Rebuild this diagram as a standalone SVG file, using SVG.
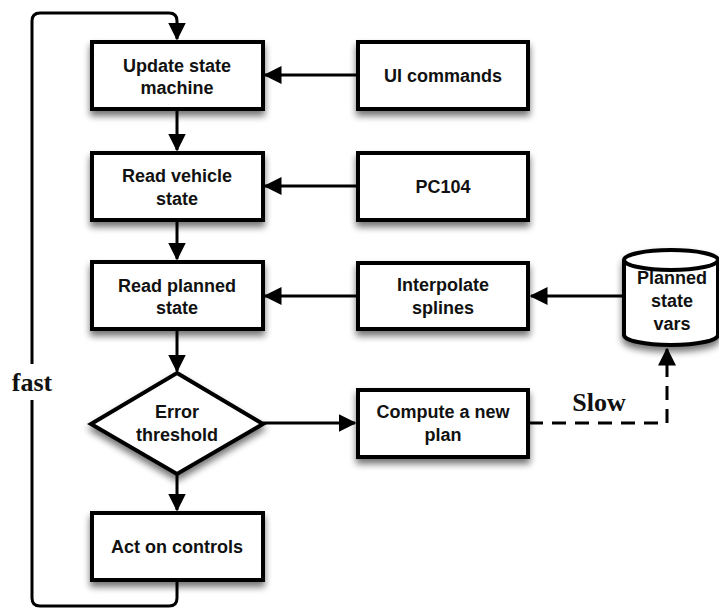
<svg xmlns="http://www.w3.org/2000/svg" width="719" height="610" viewBox="0 0 719 610">
<defs>
<filter id="sh" x="-20%" y="-20%" width="150%" height="160%">
<feGaussianBlur in="SourceAlpha" stdDeviation="3.5"/>
<feOffset dx="0" dy="5" result="b"/>
<feComponentTransfer><feFuncA type="linear" slope="0.55"/></feComponentTransfer>
<feMerge><feMergeNode/><feMergeNode in="SourceGraphic"/></feMerge>
</filter>
<marker id="ah" markerWidth="6" markerHeight="6" refX="5.5" refY="3" orient="auto" markerUnits="strokeWidth" viewBox="0 0 6 6">
<path d="M0,0 L6,3 L0,6 Z" fill="#000"/>
</marker>
</defs>
<style>
.box{fill:#fff;stroke:#000;stroke-width:4;filter:url(#sh)}
.t{font-family:"Liberation Sans",Arial,sans-serif;font-weight:bold;font-size:18px;text-anchor:middle;fill:#111}
.c{fill:none;stroke:#000;stroke-width:3}
.lbl{font-family:"Liberation Serif","DejaVu Serif",serif;font-weight:bold;font-size:26px;text-anchor:middle;fill:#111}
</style>
<g id="connectors">
<path class="c" d="M177,581 V598 Q177,606 169,606 H40 Q32,606 32,598 V400"/>
<path class="c" d="M32,364 V21 Q32,13 40,13 H169 Q177,13 177,21 V39" marker-end="url(#ah)"/>
<line class="c" x1="177" y1="110" x2="177" y2="150" marker-end="url(#ah)"/>
<line class="c" x1="177" y1="221" x2="177" y2="259" marker-end="url(#ah)"/>
<line class="c" x1="177" y1="331" x2="177" y2="371" marker-end="url(#ah)"/>
<line class="c" x1="177" y1="475" x2="177" y2="510" marker-end="url(#ah)"/>
<line class="c" x1="357" y1="75" x2="265" y2="75" marker-end="url(#ah)"/>
<line class="c" x1="357" y1="186" x2="265" y2="186" marker-end="url(#ah)"/>
<line class="c" x1="357" y1="296" x2="265" y2="296" marker-end="url(#ah)"/>
<line class="c" x1="623" y1="296" x2="531" y2="296" marker-end="url(#ah)"/>
<line class="c" x1="263" y1="423" x2="355" y2="423" marker-end="url(#ah)"/>
<path class="c" d="M529,423 H667 V349" stroke-dasharray="14,9" marker-end="url(#ah)"/>
<text class="lbl" x="32" y="391">fast</text>
<text class="lbl" x="599" y="411">Slow</text>
</g>
<g id="update"><rect class="box" x="92" y="42" width="171" height="67"/><text class="t" x="177" y="72">Update state</text><text class="t" x="177" y="94">machine</text></g>
<g id="readvehicle"><rect class="box" x="92" y="153" width="171" height="67"/><text class="t" x="177" y="182">Read vehicle</text><text class="t" x="177" y="205">state</text></g>
<g id="readplanned"><rect class="box" x="92" y="262" width="171" height="67"/><text class="t" x="177" y="292">Read planned</text><text class="t" x="177" y="314">state</text></g>
<g id="error"><path class="box" d="M177,373 L263,424 L177,474 L91,424 Z"/><text class="t" x="177" y="418">Error</text><text class="t" x="177" y="441">threshold</text></g>
<g id="act"><rect class="box" x="92" y="513" width="171" height="67"/><text class="t" x="177" y="553">Act on controls</text></g>
<g id="ui"><rect class="box" x="358" y="42" width="170" height="67"/><text class="t" x="443" y="82">UI commands</text></g>
<g id="pc104"><rect class="box" x="358" y="153" width="170" height="67"/><text class="t" x="443" y="193">PC104</text></g>
<g id="interp"><rect class="box" x="358" y="263" width="170" height="66"/><text class="t" x="443" y="291">Interpolate</text><text class="t" x="443" y="314">splines</text></g>
<g id="compute"><rect class="box" x="358" y="390" width="170" height="67"/><text class="t" x="443" y="418">Compute a new</text><text class="t" x="443" y="441">plan</text></g>
<g id="planned">
<path class="box" d="M624,260 V335 A47,10 0 0 0 718,335 V260 A47,10 0 0 0 624,260 Z"/>
<path d="M624,260 A47,10 0 0 0 718,260" fill="none" stroke="#000" stroke-width="4"/>
<text class="t" x="672" y="284">Planned</text><text class="t" x="672" y="307">state</text><text class="t" x="672" y="330">vars</text>
</g>
</svg>
